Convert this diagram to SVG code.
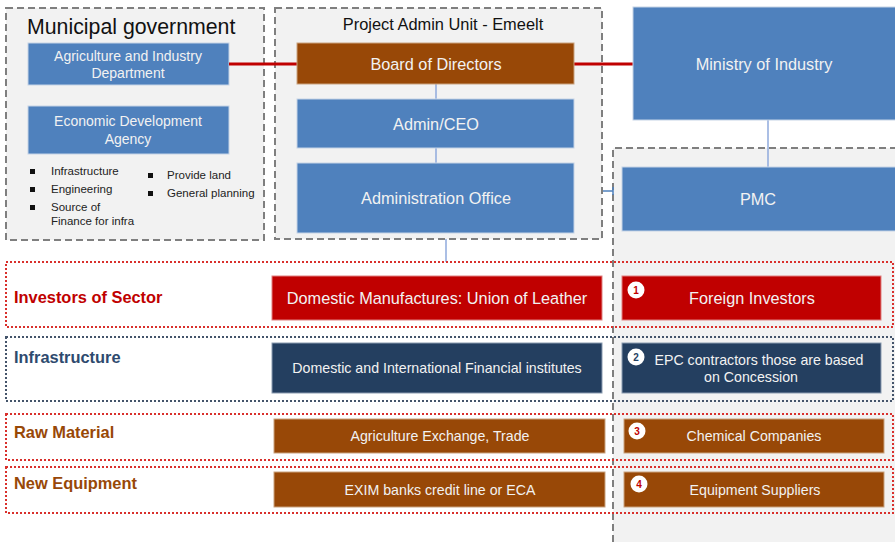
<svg xmlns="http://www.w3.org/2000/svg" width="895" height="542" viewBox="0 0 895 542">
<style>
text{font-family:"Liberation Sans",Arial,sans-serif}
.grp{fill:#f2f2f2;stroke:#7f7f7f;stroke-width:2;stroke-dasharray:7,4}
.blue{fill:#4f81bd;stroke:#c5d3e6;stroke-width:1}
.brown{fill:#984807;stroke:#c9a27f;stroke-width:1}
.red{fill:#c00000;stroke:#e08080;stroke-width:1}
.navy{fill:#243f60;stroke:#8a9bb0;stroke-width:1}
.t{fill:#f2f2f2;text-anchor:middle}
.band{fill:none;stroke-width:2;stroke-dasharray:2,2}
.bl{font-weight:bold;font-size:16.4px}
.bul{font-size:11.5px;fill:#222}
.badge{fill:#fff}
.num{font-size:10px;font-weight:bold;text-anchor:middle;fill:#c00000}
.conn{stroke:#8faadc;stroke-width:1.5;fill:none}
.redc{stroke:#c00000;stroke-width:3;fill:none}
</style>
<rect x="0" y="0" width="895" height="542" fill="#ffffff"/>
<g id="pmc-panel">
<rect x="613" y="148" width="290" height="400" fill="#f2f2f2"/>
<path d="M613,542 V148 H895" fill="none" stroke="#7f7f7f" stroke-width="2" stroke-dasharray="7,4"/>
</g>
<g id="municipal">
<rect class="grp" x="6" y="8" width="258" height="232"/>
<text x="27" y="34" font-size="21.3" fill="#111">Municipal government</text>
</g>
<g id="agri-dept">
<rect class="blue" x="28" y="43" width="201" height="42"/>
<text class="t" x="128" y="61" font-size="14">Agriculture and Industry</text>
<text class="t" x="128" y="78" font-size="14">Department</text>
</g>
<g id="eda">
<rect class="blue" x="28" y="106" width="201" height="48"/>
<text class="t" x="128" y="126" font-size="14">Economic Development</text>
<text class="t" x="128" y="144" font-size="14">Agency</text>
</g>
<g id="bullets">
<rect x="30" y="169" width="5" height="5" fill="#111"/>
<rect x="30" y="187" width="5" height="5" fill="#111"/>
<rect x="30" y="205" width="5" height="5" fill="#111"/>
<rect x="148" y="173" width="5" height="5" fill="#111"/>
<rect x="148" y="191" width="5" height="5" fill="#111"/>
<text class="bul" x="51" y="175">Infrastructure</text>
<text class="bul" x="51" y="193">Engineering</text>
<text class="bul" x="51" y="211">Source of</text>
<text class="bul" x="51" y="225">Finance for infra</text>
<text class="bul" x="167" y="179">Provide land</text>
<text class="bul" x="167" y="197">General planning</text>
</g>
<g id="pau">
<rect class="grp" x="275" y="8" width="327" height="231"/>
<text x="443" y="30" font-size="16.4" fill="#111" text-anchor="middle">Project Admin Unit - Emeelt</text>
</g>
<g id="connectors">
<line class="redc" x1="229" y1="64" x2="297" y2="64"/>
<line class="redc" x1="574" y1="64" x2="633" y2="64"/>
<line class="conn" x1="436" y1="84" x2="436" y2="99"/>
<line class="conn" x1="436" y1="148" x2="436" y2="163"/>
<line class="conn" x1="446" y1="239" x2="446" y2="262"/>
<line class="conn" x1="768" y1="120" x2="768" y2="167"/>
<path d="M603,191 H613 M613,187 V195" stroke="#4f81bd" stroke-width="1.5" fill="none"/>
</g>
<g id="board">
<rect class="brown" x="297" y="43" width="277" height="41"/>
<text class="t" x="436" y="70" font-size="16.3">Board of Directors</text>
</g>
<g id="ceo">
<rect class="blue" x="297" y="99" width="277" height="49"/>
<text class="t" x="436" y="130" font-size="16.3">Admin/CEO</text>
</g>
<g id="admin-office">
<rect class="blue" x="297" y="163" width="277" height="70"/>
<text class="t" x="436" y="204" font-size="16.3">Administration Office</text>
</g>
<g id="ministry">
<rect class="blue" x="633" y="7" width="270" height="113"/>
<text class="t" x="764" y="70" font-size="16.3">Ministry of Industry</text>
</g>
<g id="pmc">
<rect class="blue" x="622" y="167" width="281" height="64"/>
<text class="t" x="758" y="205" font-size="16.3">PMC</text>
</g>
<g id="band-investors">
<rect class="band" x="6" y="262" width="887" height="65" stroke="#d9302c"/>
<text class="bl" x="14" y="303" fill="#c00000">Investors of Sector</text>
</g>
<g id="band-infra">
<rect class="band" x="6" y="337" width="887" height="64" stroke="#44546a"/>
<text class="bl" x="14" y="363" fill="#2e4a6e">Infrastructure</text>
</g>
<g id="band-raw">
<rect class="band" x="6" y="414" width="887" height="46" stroke="#d9302c"/>
<text class="bl" x="14" y="438" fill="#984807">Raw Material</text>
</g>
<g id="band-equip">
<rect class="band" x="6" y="467" width="887" height="46" stroke="#d9302c"/>
<text class="bl" x="14" y="489" fill="#984807">New Equipment</text>
</g>
<g id="domestic-manuf">
<rect class="red" x="272" y="276" width="330" height="44"/>
<text class="t" x="437" y="304" font-size="16.3">Domestic Manufactures: Union of Leather</text>
</g>
<g id="foreign-investors">
<rect class="red" x="622" y="276" width="259" height="44"/>
<text class="t" x="752" y="304" font-size="16.3">Foreign Investors</text>
<circle class="badge" cx="636" cy="290" r="8.5"/>
<text class="num" x="636" y="293.5">1</text>
</g>
<g id="fin-inst">
<rect class="navy" x="272" y="343" width="330" height="50"/>
<text class="t" x="437" y="373" font-size="14.2">Domestic and International Financial institutes</text>
</g>
<g id="epc">
<rect class="navy" x="622" y="343" width="259" height="50"/>
<text class="t" x="759" y="365" font-size="14.2">EPC contractors those are based</text>
<text class="t" x="751" y="382" font-size="14.2">on Concession</text>
<circle class="badge" cx="636" cy="357" r="8.5"/>
<text class="num" x="636" y="360.5" style="fill:#243f60">2</text>
</g>
<g id="agri-exchange">
<rect class="brown" x="274" y="419" width="331" height="34"/>
<text class="t" x="440" y="441" font-size="14.2">Agriculture Exchange, Trade</text>
</g>
<g id="chemical">
<rect class="brown" x="624" y="419" width="260" height="34"/>
<text class="t" x="754" y="441" font-size="14.2">Chemical Companies</text>
<circle class="badge" cx="637" cy="431" r="8.5"/>
<text class="num" x="637" y="434.5">3</text>
</g>
<g id="exim">
<rect class="brown" x="274" y="472" width="331" height="35"/>
<text class="t" x="440" y="495" font-size="14.2">EXIM banks credit line or ECA</text>
</g>
<g id="equip-suppliers">
<rect class="brown" x="624" y="472" width="260" height="35"/>
<text class="t" x="755" y="495" font-size="14.2">Equipment Suppliers</text>
<circle class="badge" cx="639" cy="484" r="8.5"/>
<text class="num" x="639" y="487.5">4</text>
</g>
</svg>
